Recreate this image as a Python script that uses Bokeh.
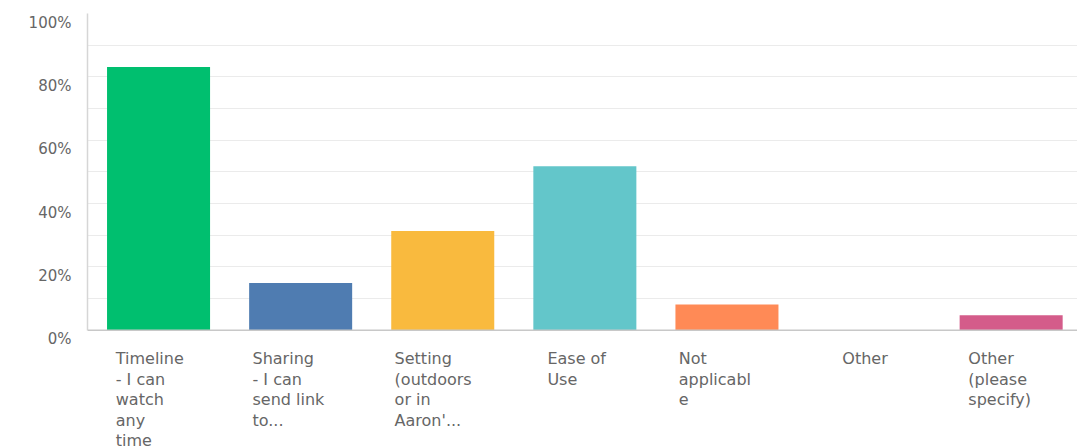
from bokeh.plotting import figure
from bokeh.models import (ColumnDataSource, Range1d, LinearAxis, FixedTicker,
                          PrintfTickFormatter, Span)
from bokeh.core.properties import value
from bokeh.embed import file_html
from bokeh.resources import INLINE

# ---- data ----
categories = ["Timeline - I can watch any time", "Sharing - I can send link to...",
              "Setting (outdoors or in Aaron'...", "Ease of Use", "Not applicable",
              "Other", "Other (please specify)"]
tick_labels = ["Timeline\n- I can\nwatch\nany\ntime",
               "Sharing\n- I can\nsend link\nto...",
               "Setting\n(outdoors\nor in\nAaron'...",
               "Ease of\nUse",
               "Not\napplicabl\ne",
               "Other",
               "Other\n(please\nspecify)"]
values = [83.1, 14.9, 31.3, 51.8, 8.1, 0.0, 4.7]
colors = ["#00BF6F", "#4F7CB1", "#F9BA3E", "#63C6CA", "#FF8A56", "#7D5E90", "#D45C8A"]
y_ticks = [0, 20, 40, 60, 80, 100]
grid_ticks = [10, 20, 30, 40, 50, 60, 70, 80, 90]

# ---- layout ----
W, H = 1077, 448
left_px, top_px = 87, 13
frame_w = W - left_px
frame_h = H - top_px
slot_px = 142.1          # width of one category slot
px_per_unit = 3.167      # pixels per 1 %
bar_w = 0.725
y_low = 100 - frame_h / px_per_unit
label_shift = 9 / px_per_unit    # y tick labels sit 9 px below their gridline
label_gap = 19 / px_per_unit     # gap between baseline and category labels
FONT = "DejaVu Sans"
TXT = "#666666"

idx = list(range(len(categories)))
src = ColumnDataSource(dict(x=idx, top=values, color=colors, cat=categories))

p = figure(width=W, height=H, output_backend="svg", toolbar_location=None,
           x_range=Range1d(-0.5, -0.5 + frame_w / slot_px),
           y_range=Range1d(y_low, 100),
           min_border_left=left_px, min_border_right=0, min_border_top=top_px,
           min_border_bottom=0)
p.outline_line_color = None
p.background_fill_color = "white"

p.vbar(x="x", top="top", width=bar_w, fill_color="color", line_color=None, source=src)

# grid
p.xgrid.visible = False
p.ygrid.ticker = FixedTicker(ticks=grid_ticks)
p.ygrid.grid_line_color = "#ebebeb"
p.ygrid.grid_line_width = 1

# x axis hidden, baseline as span at 0
p.xaxis.visible = False
p.add_layout(Span(location=0, dimension="width", line_color="#c8c8c8", line_width=1.5))

# primary y axis: only the vertical line from 0 to 100 (no ticks, no labels)
ya = p.yaxis[0]
ya.ticker = FixedTicker(ticks=[])
ya.bounds = (0, 100)
ya.axis_line_color = "#d6d6d6"
ya.axis_line_width = 1.5
ya.major_tick_out = 0
ya.major_tick_in = 0
ya.minor_tick_out = 0
ya.minor_tick_in = 0
ya.major_label_standoff = 0

# label axis (shifted slightly below gridlines, like the reference)
p.extra_y_ranges = {"lab": Range1d(y_low + label_shift, 100 + label_shift)}
la = LinearAxis(y_range_name="lab", ticker=FixedTicker(ticks=y_ticks),
                formatter=PrintfTickFormatter(format="%d%%"))
la.axis_line_color = None
la.major_tick_out = 0
la.major_tick_in = 0
la.minor_tick_out = 0
la.minor_tick_in = 0
la.major_label_standoff = 16
la.major_label_text_font = FONT
la.major_label_text_font_size = "15px"
la.major_label_text_color = TXT
p.add_layout(la, "left")

# category labels: block left-aligned, roughly centred under each bar
def block_left(i, lab):
    widest = max(len(s) for s in lab.split("\n"))
    w = min(widest * 10.7, bar_w * slot_px)
    return i - (w / 2.0) / slot_px

lab_src = ColumnDataSource(dict(x=[block_left(i, l) for i, l in zip(idx, tick_labels)],
                                y=[-label_gap] * len(idx), text=tick_labels))
p.text(x="x", y="y", text="text", source=lab_src,
       text_align="left", text_baseline="top",
       text_font=value(FONT), text_font_size="16px", text_color=TXT,
       text_line_height=1.08)

open("out.html", "w").write(file_html(p, INLINE))
